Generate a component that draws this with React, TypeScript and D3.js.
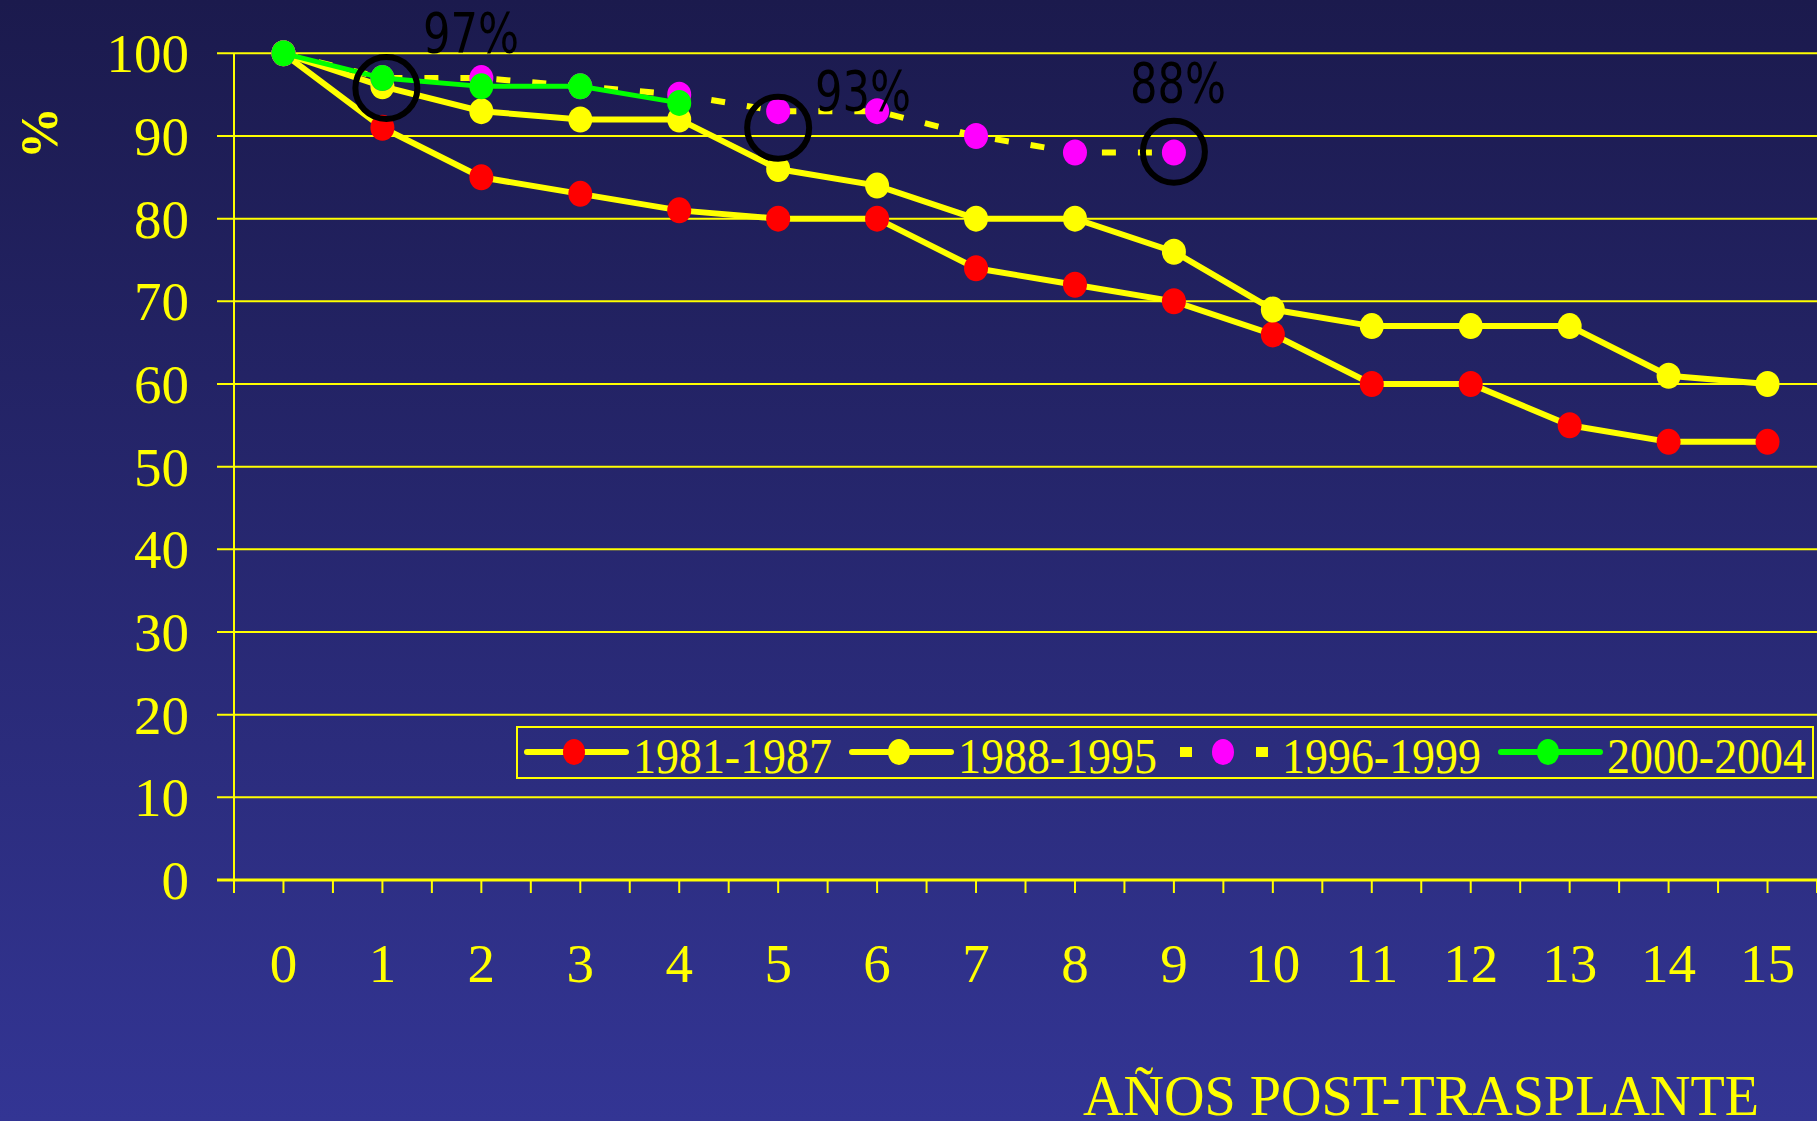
import React from "react";
import * as d3 from "d3";

// años post-trasplante
const years = d3.range(0, 16);
const yTicks = [0, 10, 20, 30, 40, 50, 60, 70, 80, 90, 100];

// supervivencia (%) por cohorte
const s1981 = [100, 91, 85, 83, 81, 80, 80, 74, 72, 70, 66, 60, 60, 55, 53, 53];
const s1988 = [100, 96, 93, 92, 92, 86, 84, 80, 80, 76, 69, 67, 67, 67, 61, 60];
const s1996 = [100, 97, 97, 96, 95, 93, 93, 90, 88, 88];
const s2000 = [100, 97, 96, 96, 94];

const seriesNames = ["1981-1987", "1988-1995", "1996-1999", "2000-2004"];
const markerColors = ["#ff0000", "#ffff00", "#ff00ff", "#00ff00"];
const lineColors = ["#ffff00", "#ffff00", "#ffff00", "#00ff00"];

// círculos destacados: [año, valor, texto]
const highlights: [number, number, string][] = [
  [1.04, 95.8, "97%"],
  [5, 91, "93%"],
  [9, 88.1, "88%"],
];
const labelPos: [number, number][] = [
  [471, 52],
  [863, 110],
  [1178, 102],
];

const W = 1817;
const H = 1121;
const YEL = "#ffff00";
const serif = "'Liberation Serif', 'Times New Roman', serif";

export default function App() {
  const x = d3.scaleLinear().domain([-0.5, 15.5]).range([234, 1817]);
  const y = d3.scaleLinear().domain([0, 100]).range([880, 53.3]);

  const series = [s1981, s1988, s1996, s2000];
  const line = d3
    .line<number>()
    .x((_, i) => x(years[i]))
    .y((d) => y(d));

  const halfTicks = d3.range(-0.5, 15.51, 0.5);
  const legendX = [527, 852, 1176, 1501];

  return (
    <svg
      width={W}
      height={H}
      style={{ position: "absolute", left: 0, top: 0, display: "block" }}
    >
      <defs>
        <linearGradient id="bg" x1="0" y1="0" x2="0" y2="1">
          <stop offset="0" stopColor="#1b1a4d" />
          <stop offset="1" stopColor="#333594" />
        </linearGradient>
      </defs>
      <rect width={W} height={H} fill="url(#bg)" />

      {/* rejilla y ticks del eje Y */}
      {yTicks.map((t) => (
        <g key={t}>
          <line x1={217} x2={W} y1={y(t)} y2={y(t)} stroke={YEL} strokeWidth={t === 0 ? 3 : 2} />
          <text
            x={189}
            y={y(t) + 19}
            textAnchor="end"
            fill={YEL}
            fontFamily={serif}
            fontSize={55}
          >
            {t}
          </text>
        </g>
      ))}
      <line x1={234} x2={234} y1={y(100)} y2={y(0)} stroke={YEL} strokeWidth={2} />

      {/* eje X */}
      {halfTicks.map((t) => (
        <line key={t} x1={x(t)} x2={x(t)} y1={y(0)} y2={y(0) + 13} stroke={YEL} strokeWidth={2} />
      ))}
      {years.map((t) => (
        <text
          key={t}
          x={x(t)}
          y={982}
          textAnchor="middle"
          fill={YEL}
          fontFamily={serif}
          fontSize={55}
        >
          {t}
        </text>
      ))}

      <text
        transform="translate(57,133) rotate(-90)"
        textAnchor="middle"
        fill={YEL}
        fontFamily={serif}
        fontWeight="bold"
        fontSize={52}
      >
        %
      </text>
      <text x={1083} y={1115} fill={YEL} fontFamily={serif} fontSize={56} textLength={676} lengthAdjust="spacingAndGlyphs">
        AÑOS POST-TRASPLANTE
      </text>

      {/* series */}
      {series.map((s, k) => (
        <g key={k}>
          <path
            d={line(s) || ""}
            fill="none"
            stroke={lineColors[k]}
            strokeWidth={k === 3 ? 5 : 6}
            strokeDasharray={k === 2 ? "14 22" : undefined}
          />
          {s.map((v, i) => (
            <ellipse key={i} cx={x(years[i])} cy={y(v)} rx={12} ry={13} fill={markerColors[k]} />
          ))}
        </g>
      ))}

      {/* círculos y etiquetas */}
      {highlights.map(([yr, v, label], i) => (
        <g key={i}>
          <circle cx={x(yr)} cy={y(v)} r={31} fill="none" stroke="#000" strokeWidth={6} />
          <text
            x={labelPos[i][0]}
            y={labelPos[i][1]}
            textAnchor="middle"
            fill="#000"
            fontFamily="'DejaVu Sans', sans-serif"
            fontSize={56}
            textLength={96}
            lengthAdjust="spacingAndGlyphs"
          >
            {label}
          </text>
        </g>
      ))}

      {/* leyenda */}
      <rect x={517} y={727} width={1296} height={51} fill="none" stroke={YEL} strokeWidth={2} />
      {seriesNames.map((name, k) => {
        const x0 = legendX[k];
        return (
          <g key={name}>
            {k === 2 ? (
              <>
                <rect x={x0 + 4} y={752 - 5} width={12} height={10} fill={YEL} />
                <rect x={x0 + 80} y={752 - 5} width={12} height={10} fill={YEL} />
              </>
            ) : (
              <line
                x1={x0}
                x2={x0 + 99}
                y1={752}
                y2={752}
                stroke={lineColors[k]}
                strokeWidth={6}
                strokeLinecap="round"
              />
            )}
            <ellipse cx={x0 + 47} cy={752} rx={11} ry={13} fill={markerColors[k]} />
            <text
              x={x0 + 106}
              y={773}
              fill={YEL}
              fontFamily={serif}
              fontSize={50}
              textLength={199}
              lengthAdjust="spacingAndGlyphs"
            >
              {name}
            </text>
          </g>
        );
      })}
    </svg>
  );
}
